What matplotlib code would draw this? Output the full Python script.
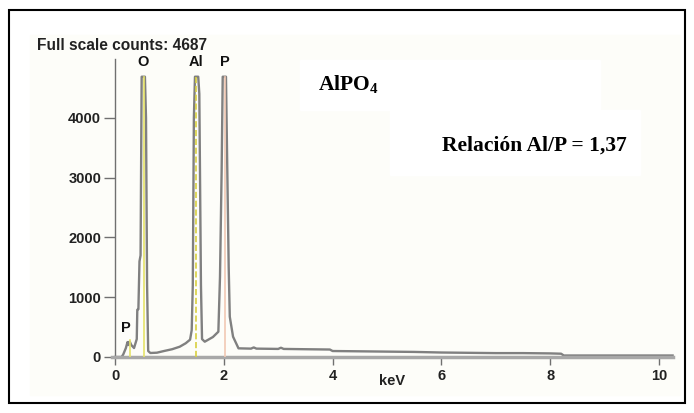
import matplotlib
matplotlib.use("Agg")
import matplotlib.pyplot as plt
from matplotlib.patches import Rectangle

W, H = 694, 413

# spectrum (keV, counts)
energy = [0.0, 0.12, 0.15, 0.20, 0.23, 0.25, 0.27, 0.30, 0.35, 0.40, 0.41, 0.43, 0.45, 0.47,
          0.49, 0.55, 0.57, 0.59, 0.61, 0.65, 0.77, 0.90, 1.05, 1.19, 1.30, 1.38, 1.41,
          1.43, 1.45, 1.47, 1.53, 1.55, 1.58, 1.60, 1.65, 1.80, 1.90, 1.93, 1.96, 1.98,
          2.04, 2.06, 2.09, 2.11, 2.17, 2.27, 2.50, 2.55, 2.60, 3.00, 3.05, 3.10, 3.50,
          3.95, 4.00, 4.50, 5.00, 5.50, 6.00, 6.50, 7.00, 7.50, 8.00, 8.20, 8.25, 10.25]
counts = [0, 0, 40, 150, 250, 200, 260, 200, 150, 300, 790, 800, 1600, 1700,
          4687, 4687, 4000, 1200, 100, 67, 72, 100, 130, 172, 230, 290, 450,
          1200, 4000, 4687, 4687, 4400, 1200, 300, 256, 334, 423, 1340, 3100, 4687,
          4687, 3400, 1500, 674, 340, 145, 140, 160, 140, 135, 155, 135, 130,
          125, 100, 95, 90, 85, 75, 70, 65, 65, 60, 55, 25, 25]

# element markers
markers = ["P", "O", "Al", "P"]
marker_kev = [0.28, 0.525, 1.487, 2.013]
marker_top = [280, 4687, 4687, 4687]
marker_colors = ["#e6e36a", "#e6e36a", "#d8d040", "#f2c9b4"]
marker_styles = ["-", "-", "--", "-"]
label_y = [490, 4930, 4930, 4930]

xticks = [0, 2, 4, 6, 8, 10]
yticks = [0, 1000, 2000, 3000, 4000]

fig = plt.figure(figsize=(W / 100, H / 100), dpi=100)
fig.patch.set_facecolor("white")

# faint panel background and white boxes behind the notes
fig.patches.append(Rectangle((30 / W, 1 - 395 / H), 650 / W, 360 / H,
                             transform=fig.transFigure, color="#fdfdf9", zorder=-2))
fig.patches.append(Rectangle((300 / W, 1 - 110 / H), 300 / W, 50 / H,
                             transform=fig.transFigure, color="white", zorder=-1))
fig.patches.append(Rectangle((390 / W, 1 - 175 / H), 250 / W, 65 / H,
                             transform=fig.transFigure, color="white", zorder=-1))
# outer frame
fig.patches.append(Rectangle((9 / W, 1 - 403 / H), 676 / W, 393 / H, fill=False,
                             transform=fig.transFigure, edgecolor="black", lw=1.5, zorder=5))

x0, x1 = -0.05, 10.25
y0, y1 = 0, 4990
px_kev, px_cnt = 54.4, 0.0598
left = 115 + x0 * px_kev
right = 115 + x1 * px_kev
bottom = 357
top = 357 - y1 * px_cnt
ax = fig.add_axes([left / W, 1 - bottom / H, (right - left) / W, (bottom - top) / H])
ax.patch.set_alpha(0)
ax.set_xlim(x0, x1)
ax.set_ylim(y0, y1)

for e, t, c, ls in zip(marker_kev, marker_top, marker_colors, marker_styles):
    ax.plot([e, e], [0, t], color=c, ls=ls, lw=1.2, zorder=3)
ax.plot(energy, counts, color="#808080", lw=1.7, zorder=2, clip_on=False)

for lab, e, ly in zip(markers, marker_kev, label_y):
    ax.text(e - (0.08 if ly < 1000 else 0), ly, lab, ha="center",
            va="center", fontsize=10.5, fontweight="bold", family="Liberation Sans",
            color="#111111")

for s in ["top", "right"]:
    ax.spines[s].set_visible(False)
ax.spines["left"].set_color("#707070")
ax.spines["left"].set_linewidth(1.0)
ax.spines["left"].set_bounds(0, y1)
ax.spines["left"].set_position(("data", 0))
ax.spines["bottom"].set_color("#a8a8a8")
ax.spines["bottom"].set_linewidth(2.5)

ax.set_xticks(xticks)
ax.set_yticks(yticks)
ax.tick_params(axis="y", length=8, width=1, color="#707070", pad=2)
ax.tick_params(axis="x", length=6, width=1, color="#707070", pad=3)
for lbl in ax.get_xticklabels() + ax.get_yticklabels():
    lbl.set_fontweight("bold")
    lbl.set_fontsize(10.5)
    lbl.set_family("Liberation Sans")
    lbl.set_color("#222222")

fig.text(392 / W, 1 - 381 / H, "keV", ha="center", va="center", fontsize=10.5,
         fontweight="bold", family="Liberation Sans", color="#222222")
fig.text(37 / W, 1 - 46 / H, "Full scale counts: 4687", ha="left", va="center",
         fontsize=11.2, fontweight="bold", family="Liberation Sans", color="#222222")

fig.text(318 / W, 1 - 85 / H, r"AlPO$_\mathregular{4}$", ha="left", va="center",
         fontsize=15.5, fontweight="bold", family="Liberation Serif")
fig.text(442 / W, 1 - 146 / H, "Relación Al/P = 1,37", ha="left", va="center",
         fontsize=15.5, fontweight="bold", family="Liberation Serif")

fig.savefig("out.png", dpi=100)
